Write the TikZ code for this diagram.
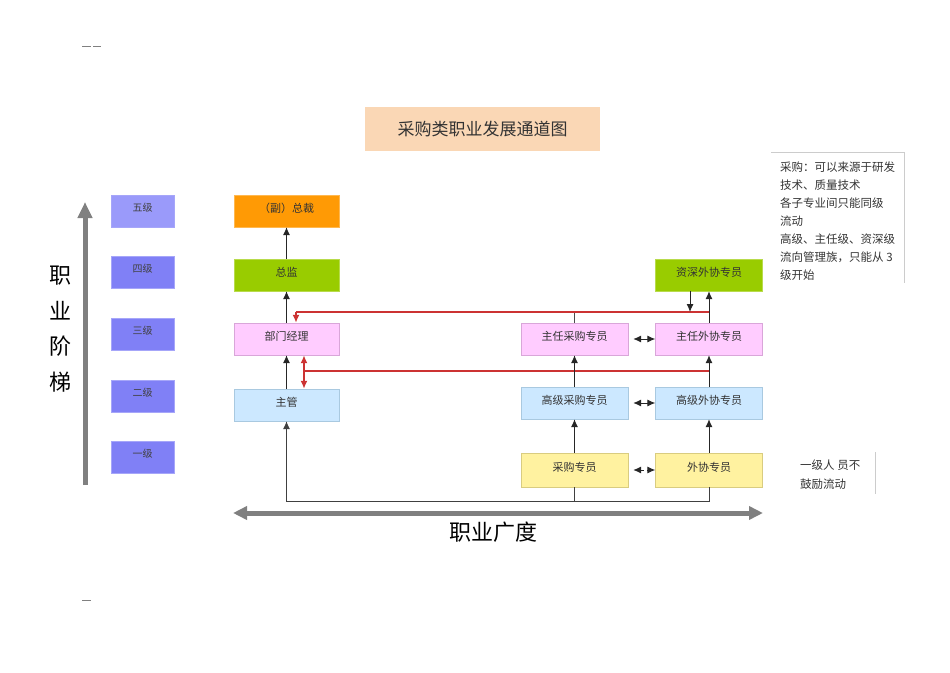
\documentclass[tikz,border=0pt]{standalone}
\usepackage{fontspec}
\setmainfont{Noto Sans CJK SC}
\usetikzlibrary{arrows.meta}
\definecolor{lvblue}{HTML}{8080F6}
\definecolor{lvtop}{HTML}{9A9AFA}
\definecolor{vporange}{HTML}{FF9A05}
\definecolor{lvgreen}{HTML}{99CC00}
\definecolor{pinkbx}{HTML}{FFCCFF}
\definecolor{pinkln}{HTML}{D9A6D9}
\definecolor{bluebx}{HTML}{CCE8FF}
\definecolor{blueln}{HTML}{A9C9E0}
\definecolor{yelbx}{HTML}{FFF2A0}
\definecolor{yelln}{HTML}{D9CC80}
\definecolor{titlebg}{HTML}{FAD7B5}
\definecolor{redln}{HTML}{CC3333}
\definecolor{axgray}{HTML}{808080}
\tikzset{
  lvl/.style={fill=lvblue, draw=lvblue!70!white, minimum width=63pt, minimum height=32pt,
              inner sep=0pt, text depth=8pt, font=\fontsize{10}{12}\selectfont, text=black!75},
  box/.style={minimum height=32pt, inner sep=0pt, text depth=6pt, font=\fontsize{11}{13}\selectfont, text=black!80},
  lbox/.style={box, minimum width=105pt},
  rbox/.style={box, minimum width=107pt},
  flow/.style={-{Latex[length=8pt,width=7pt]}, line width=0.9pt, black!85},
  twoway/.style={{Latex[length=8pt,width=7pt]}-{Latex[length=8pt,width=7pt]}, line width=0.9pt, black!85},
  redflow/.style={line width=1.7pt, redln},
  axis/.style={line width=5pt, axgray},
  tag/.style={anchor=north west, align=left, inner sep=0pt, text=black!80},
}
\begin{document}
\begin{tikzpicture}[x=1pt,y=-1pt]
\useasboundingbox (0,0) rectangle (950,672);
% page marks
\draw[gray, line width=1pt] (82,46) -- (91,46) (93,46) -- (101,46);
\draw[gray, line width=1pt] (82,600) -- (91,600);

\node[fill=titlebg, minimum width=235pt, minimum height=44pt, inner sep=0pt,
      font=\fontsize{17}{20}\selectfont, text=black!80] (title) at (482.5,129) {采购类职业发展通道图};

% levels
\node[lvl, fill=lvtop] (l5) at (142.5,211) {五级};
\node[lvl] (l4) at (142.5,272.5) {四级};
\node[lvl] (l3) at (142.5,334.5) {三级};
\node[lvl] (l2) at (142.5,396.5) {二级};
\node[lvl] (l1) at (142.5,457.5) {一级};

% management line
\node[lbox, fill=vporange, draw=vporange!70!white] (vp) at (286.5,211) {（副）总裁};
\node[lbox, fill=lvgreen, draw=lvgreen!70!white] (dir) at (286.5,275) {总监};
\node[lbox, fill=pinkbx, draw=pinkln] (mgr) at (286.5,339) {部门经理};
\node[lbox, fill=bluebx, draw=blueln] (sup) at (286.5,405) {主管};

% specialist lines
\node[rbox, fill=lvgreen, draw=lvgreen!70!white] (swx) at (709,275) {资深外协专员};
\node[rbox, fill=pinkbx, draw=pinkln] (rcg) at (574.5,339) {主任采购专员};
\node[rbox, fill=pinkbx, draw=pinkln] (rwx) at (709,339) {主任外协专员};
\node[rbox, fill=bluebx, draw=blueln] (gcg) at (574.5,403) {高级采购专员};
\node[rbox, fill=bluebx, draw=blueln] (gwx) at (709,403) {高级外协专员};
\node[rbox, fill=yelbx, draw=yelln, minimum height=34pt] (cg) at (574.5,470) {采购专员};
\node[rbox, fill=yelbx, draw=yelln, minimum height=34pt] (wx) at (709,470) {外协专员};

% red crossovers
\coordinate (ra) at (296,312);
\coordinate (rb) at (rwx.north |- ra);
\coordinate (rc) at (304,371);
\coordinate (rd) at (rwx.south |- rc);
\draw[black!70, line width=0.8pt] (rcg.north) -- (rcg.north |- ra);
\draw[redflow] (rb) -- (ra);
\draw[redflow, -{Latex[length=8pt,width=7pt]}] (ra) -- (ra |- mgr.north);
\draw[redflow] (rd) -- (rc);
\draw[redflow, {Latex[length=8pt,width=7pt]}-{Latex[length=8pt,width=7pt]}] (mgr.south -| rc) -- (sup.north -| rc);

% promotions
\draw[flow] (dir.north) -- (vp.south);
\draw[flow] (mgr.north) -- (dir.south);
\draw[flow] (sup.north) -- (mgr.south);
\draw[flow] (rwx.north) -- (swx.south);
\draw[flow] ([xshift=-19pt]swx.south) -- ([xshift=-19pt]swx.south |- ra);
\draw[flow] (gcg.north) -- (rcg.south);
\draw[flow] (gwx.north) -- (rwx.south);
\draw[flow] (cg.north) -- (gcg.south);
\draw[flow] (wx.north) -- (gwx.south);
\draw[twoway, shorten <=5pt] (rcg.east) -- (rwx.west);
\draw[twoway, shorten <=5pt] (gcg.east) -- (gwx.west);
\draw[twoway, dashed, shorten <=5pt] (cg.east) -- (wx.west);

% base line to supervisor
\coordinate (base) at (0,501);
\draw[black!75, line width=0.9pt] (cg.south) -- (cg.south |- base);
\draw[flow, black!75] (wx.south) -- (wx.south |- base) -| (sup.south);

% axes
\coordinate (va) at (85,485);
\coordinate (vb) at (85,202);
\draw[axis, -{Triangle[length=16pt,width=14pt]}] (va) -- (vb);
\node[font=\fontsize{22}{35.5}\selectfont, align=center] (vlab) at (60,329) {职\\业\\阶\\梯};
\coordinate (ha) at (233,513);
\coordinate (hb) at (763,513);
\draw[axis, {Triangle[length=14pt,width=13pt]}-{Triangle[length=14pt,width=13pt]}] (ha) -- (hb);
\node[font=\fontsize{22}{26}\selectfont] (hlab) at (493,532) {职业广度};

% notes
\draw[black!20, line width=0.8pt] (771,152) -- (904,152) -- (904,283);
\node[tag, font=\fontsize{11.5}{18}\selectfont] (note) at (780,162)
  {采购：可以来源于研发\\技术、质量技术\\各子专业间只能同级\\流动\\高级、主任级、资深级\\流向管理族，只能从 3\\级开始};
\draw[black!20, line width=0.8pt] (875,452) -- (875,494);
\node[tag, font=\fontsize{11.5}{19}\selectfont] (note2) at (800,460) {一级人 员不\\鼓励流动};
\end{tikzpicture}
\end{document}
